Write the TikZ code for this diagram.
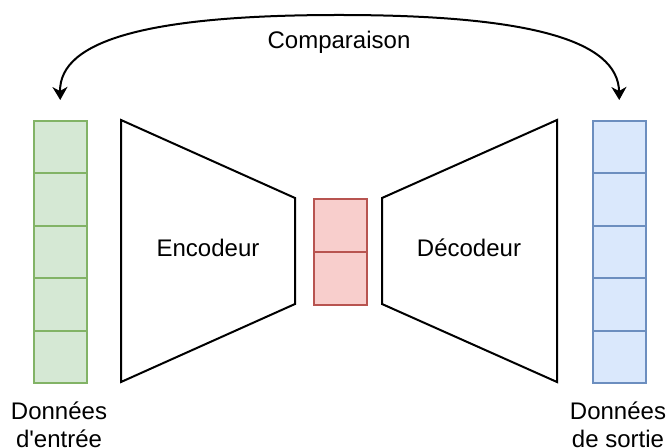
\documentclass[tikz,border=0pt]{standalone}
\usepackage{fontspec}
\setmainfont{Liberation Sans}
\newfontfamily\lfont{Liberation Sans}
\usetikzlibrary{arrows.meta}
\definecolor{gfill}{HTML}{D5E8D4}
\definecolor{gline}{HTML}{82B366}
\definecolor{rfill}{HTML}{F8CECC}
\definecolor{rline}{HTML}{B85450}
\definecolor{bfill}{HTML}{DAE8FC}
\definecolor{bline}{HTML}{6C8EBF}
\begin{document}
\begin{tikzpicture}[x=0.5pt,y=-0.5pt,
  cellbase/.style={draw, line width=1pt, minimum width=26.25pt, minimum height=26.2pt, inner sep=0pt, anchor=north west},
  gcell/.style={cellbase, fill=gfill, draw=gline},
  bcell/.style={cellbase, fill=bfill, draw=bline},
  rcell/.style={cellbase, fill=rfill, draw=rline, minimum width=26.75pt, minimum height=26.5pt},
  trap/.style={draw=black, line width=1pt, line join=miter},
  lbl/.style={font=\lfont\fontsize{12pt}{14pt}\selectfont, align=center, inner sep=0pt},
  cmparrow/.style={line width=1pt, {Stealth[length=6.5pt,width=7.5pt,inset=2pt]}-{Stealth[length=6.5pt,width=7.5pt,inset=2pt]}}
]
\useasboundingbox (0,0) rectangle (667,448);
% input column
\foreach \k in {0,...,4} {
  \node[gcell] (g\k) at (33,{120+\k*52.4}) {};
}
% output column
\foreach \k in {0,...,4} {
  \node[bcell] (b\k) at (592,{120+\k*52.4}) {};
}
% latent
\node[rcell] (r0) at (312.5,198) {};
\node[rcell] (r1) at (312.5,251) {};
% encoder / decoder
\draw[trap] (121,120) -- (295,198) -- (295,304) -- (121,382) -- cycle;
\draw[trap] (382,198) -- (557,120) -- (557,382) -- (382,304) -- cycle;
\node[lbl] (enc) at (208,248) {Encodeur};
\node[lbl] (dec) at (469,248) {Décodeur};
% labels
\node[lbl] (inlbl) at (59,425) {Données\\d'entrée};
\node[lbl] (outlbl) at (618,425) {Données\\de sortie};
% comparison arrow
\coordinate (ain) at ([yshift=10pt]g0.north);
\coordinate (aout) at ([yshift=10pt]b0.north);
\coordinate (top) at (339,15);
\draw[cmparrow] (ain) .. controls (59,40) and (150,15) .. (top) .. controls (528,15) and (618,40) .. (aout);
\node[lbl] (cmp) at (339,42) {Comparaison};
\end{tikzpicture}
\end{document}
